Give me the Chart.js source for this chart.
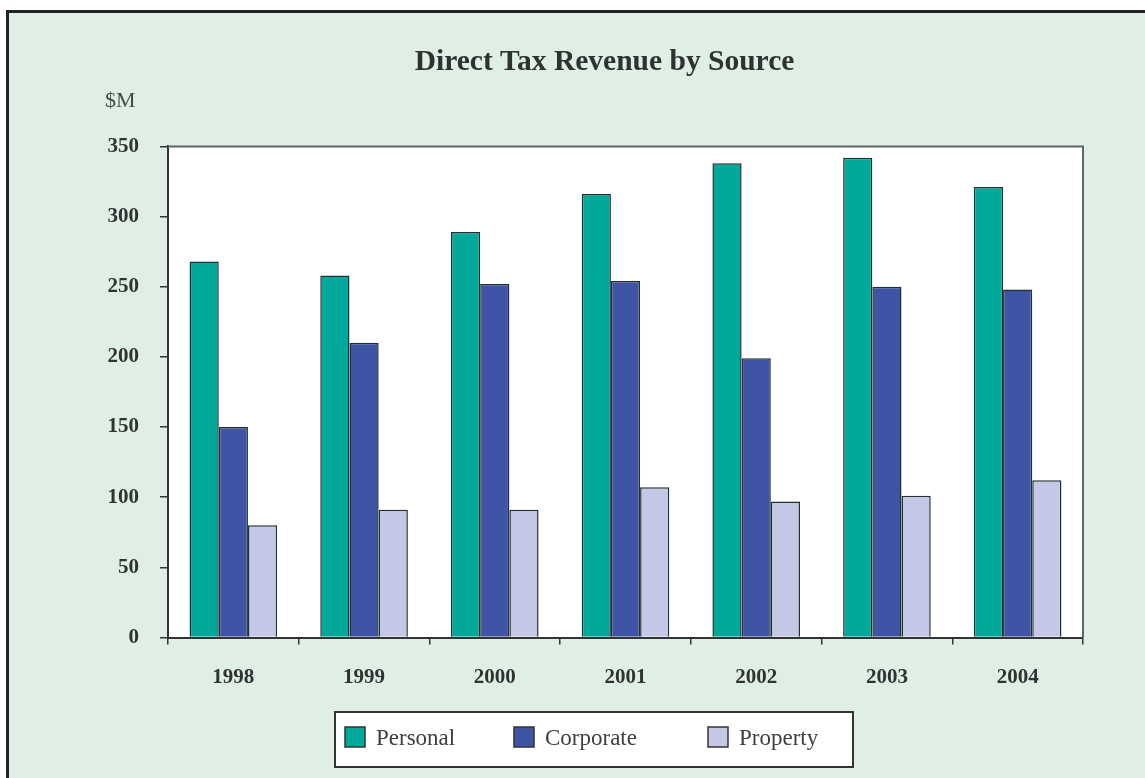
<!DOCTYPE html>
<html>
<head>
<meta charset="utf-8">
<script src="https://cdn.jsdelivr.net/npm/chart.js@4/dist/chart.umd.min.js"></script>
<style>
  html, body { margin: 0; padding: 0; width: 1145px; height: 778px; overflow: hidden; background: #ffffff; }
  #panel { position: absolute; left: 6px; top: 10px; width: 1200px; height: 800px;
           background: #e0efe6; border-left: 3px solid #222; border-top: 3px solid #222; }
  #wrap { position: absolute; left: 0; top: 0; width: 1145px; height: 778px; }
</style>
</head>
<body>
<div id="panel"></div>
<div id="wrap"><canvas id="c"></canvas></div>
<script>
// Direct tax revenue, $M
const years     = ['1998', '1999', '2000', '2001', '2002', '2003', '2004'];
const personal  = [268, 258, 289, 316, 338, 342, 321];
const corporate = [150, 210, 252, 254, 199, 250, 248];
const property  = [80, 91, 91, 107, 97, 101, 112];
const seriesNames = ['Personal', 'Corporate', 'Property'];
const yMin = 0, yMax = 350, yStep = 50;

const SERIF = '"Liberation Serif", "Times New Roman", serif';
const colors = ['#00a99a', '#3f54a4', '#c4c8e6'];
const edge = '#1f3032';

// white plotting area with a grey frame on top and right
const plotFrame = {
  id: 'plotFrame',
  beforeDraw(chart) {
    const { ctx, chartArea: a } = chart;
    ctx.save();
    ctx.fillStyle = '#ffffff';
    ctx.fillRect(a.left, a.top, a.right - a.left, a.bottom - a.top);
    ctx.restore();
  },
  afterDraw(chart) {
    const { ctx, chartArea: a } = chart;
    ctx.save();
    ctx.strokeStyle = '#5e6664';
    ctx.lineWidth = 2;
    ctx.beginPath();
    ctx.moveTo(a.left, a.top);
    ctx.lineTo(a.right, a.top);
    ctx.lineTo(a.right, a.bottom);
    ctx.stroke();
    // unit label above the value axis
    ctx.fillStyle = '#464b49';
    ctx.font = '22px ' + SERIF;
    ctx.textAlign = 'left';
    ctx.textBaseline = 'middle';
    ctx.fillText('$M', 105, 101);
    ctx.restore();
  }
};

// boxed legend below the category axis
const boxedLegend = {
  id: 'boxedLegend',
  afterDraw(chart) {
    const { ctx } = chart;
    const box = { x: 335, y: 712, w: 518, h: 55 };
    const itemX = [345, 514, 708];
    ctx.save();
    ctx.fillStyle = '#ffffff';
    ctx.fillRect(box.x, box.y, box.w, box.h);
    ctx.strokeStyle = '#333';
    ctx.lineWidth = 2;
    ctx.strokeRect(box.x, box.y, box.w, box.h);
    ctx.font = '23px ' + SERIF;
    ctx.textBaseline = 'middle';
    ctx.textAlign = 'left';
    chart.data.datasets.forEach((ds, i) => {
      const x = itemX[i], y = 727, s = 20;
      ctx.fillStyle = ds.backgroundColor;
      ctx.fillRect(x, y, s, s);
      ctx.strokeStyle = '#333';
      ctx.lineWidth = 1.5;
      ctx.strokeRect(x, y, s, s);
      ctx.fillStyle = '#3c3f3e';
      ctx.fillText(ds.label, x + 31, y + 12);
    });
    ctx.restore();
  }
};

const datasets = [personal, corporate, property].map((vals, i) => ({
  label: seriesNames[i],
  data: vals,
  backgroundColor: colors[i],
  borderColor: edge,
  borderWidth: 1.5,
  barPercentage: 1,
  categoryPercentage: 0.67,
  yAxisID: 'y'
}));

new Chart(document.getElementById('c'), {
  type: 'bar',
  data: { labels: years, datasets },
  plugins: [plotFrame, boxedLegend],
  options: {
    responsive: true,
    maintainAspectRatio: false,
    animation: false,
    events: [],
    layout: { padding: { left: 64, right: 0, top: 10, bottom: 0 } },
    plugins: {
      legend: { display: false },
      tooltip: { enabled: false },
      title: {
        display: true,
        text: 'Direct Tax Revenue by Source',
        color: '#2e3331',
        font: { family: SERIF, size: 29.5, weight: 'bold', lineHeight: 1.2 },
        padding: { top: 35, bottom: 66 }
      }
    },
    scales: {
      x: {
        offset: true,
        grid: { offset: true, drawOnChartArea: false, drawTicks: true, tickLength: 7, color: '#333', lineWidth: 1.5 },
        border: { display: true, color: '#333', width: 2 },
        ticks: { color: '#2f3331', padding: 20, font: { family: SERIF, size: 21, weight: 'bold' } },
        afterFit(scale) { scale.height = 140.5; }
      },
      y: {
        position: 'left',
        min: yMin, max: yMax,
        grid: { drawOnChartArea: false, drawTicks: true, tickLength: 8, color: '#333', lineWidth: 1.5 },
        border: { display: true, color: '#333', width: 2 },
        ticks: { stepSize: yStep, color: '#2f3331', padding: 21, font: { family: SERIF, size: 21, weight: 'bold' } },
        afterFit(scale) { scale.width = 104; }
      },
      yRight: {
        position: 'right',
        display: true,
        grid: { display: false },
        border: { display: false },
        ticks: { display: false },
        afterFit(scale) { scale.width = 62; }
      }
    }
  }
});
</script>
</body>
</html>
